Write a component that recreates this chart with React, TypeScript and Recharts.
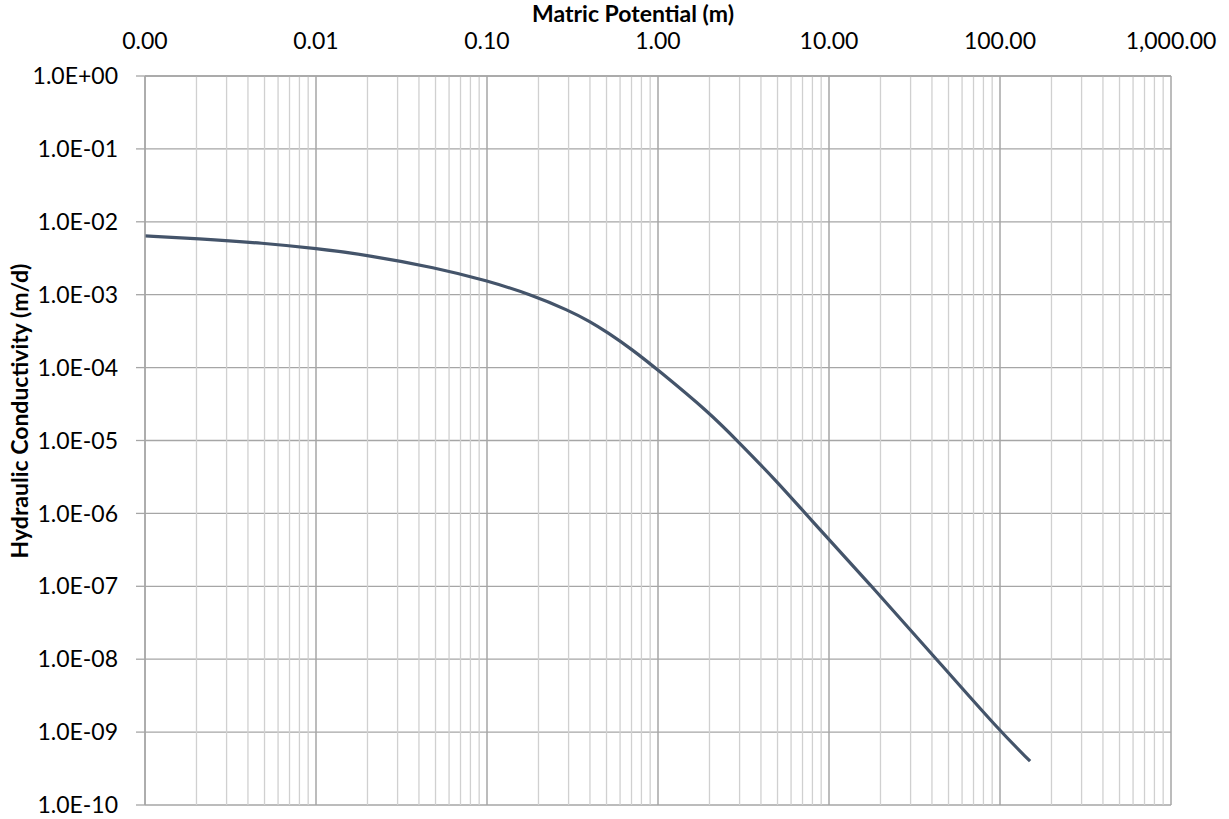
import React from "react";
import {
  LineChart,
  Line,
  XAxis,
  YAxis,
  CartesianGrid,
  ReferenceLine,
} from "recharts";

// matric potential (m) and hydraulic conductivity (m/d)
const potential = [
  0.001, 0.002, 0.005, 0.01, 0.02, 0.05, 0.1, 0.182, 0.3, 0.4, 0.5, 0.7, 1, 2,
  2.9, 5, 7.25, 17.8, 42.5, 101, 150,
];
const conductivity = [
  6.4e-3, 5.9e-3, 5.1e-3, 4.3e-3, 3.5e-3, 2.35e-3, 1.56e-3, 1.0e-3, 6.1e-4,
  4.3e-4, 3.1e-4, 1.8e-4, 9.3e-5, 2.4e-5, 1.0e-5, 2.7e-6, 1.0e-6, 1.0e-7,
  1.0e-8, 1.0e-9, 4.0e-10,
];

const xTicks = [0.001, 0.01, 0.1, 1, 10, 100, 1000];
const yTicks = [1, 1e-1, 1e-2, 1e-3, 1e-4, 1e-5, 1e-6, 1e-7, 1e-8, 1e-9, 1e-10];
const minorMultipliers = [2, 3, 4, 5, 6, 7, 8, 9];

const data = potential.map((p, i) => ({ p, k: conductivity[i] }));

const minorX: number[] = [];
xTicks.slice(0, -1).forEach((d) => {
  minorMultipliers.forEach((m) => minorX.push(d * m));
});

const FONT = "Lato, 'Open Sans', sans-serif";
const GRID_MAJOR = "#a6a6a6";
const GRID_MINOR = "#d0d0d0";

const fmtX = (v: number) =>
  v.toLocaleString("en-US", {
    minimumFractionDigits: 2,
    maximumFractionDigits: 2,
  });

const fmtY = (v: number) => {
  const e = Math.round(Math.log10(v));
  return `1.0E${e < 0 ? "-" : "+"}${String(Math.abs(e)).padStart(2, "0")}`;
};

export default function App() {
  return (
    <div style={{ position: "absolute", left: 0, top: 0, background: "#fff" }}>
      <LineChart
        width={1229}
        height={819}
        data={data}
        margin={{ top: 0, right: 58, bottom: 14, left: 0 }}
        style={{ fontFamily: FONT }}
      >
        <CartesianGrid vertical={false} stroke={GRID_MAJOR} strokeWidth={1.3} />
        {minorX.map((x) => (
          <ReferenceLine key={`m-${x}`} x={x} stroke={GRID_MINOR} strokeWidth={1.3} />
        ))}
        {xTicks.map((x) => (
          <ReferenceLine key={`M-${x}`} x={x} stroke={GRID_MAJOR} strokeWidth={1.5} />
        ))}
        <XAxis
          dataKey="p"
          type="number"
          scale="log"
          domain={[0.001, 1000]}
          ticks={xTicks}
          allowDataOverflow
          orientation="top"
          height={76}
          tickLine={false}
          tickSize={0}
          tickMargin={27}
          axisLine={{ stroke: GRID_MAJOR, strokeWidth: 1.3 }}
          tick={{ fill: "#000", fontSize: 23, fontFamily: FONT }}
          tickFormatter={fmtX}
          interval={0}
          label={{
            content: () => (
              <text
                x={633}
                y={22}
                textAnchor="middle"
                fontSize={23}
                fontWeight={700}
                fontFamily={FONT}
                fill="#000"
              >
                Matric Potential (m)
              </text>
            ),
          }}
        />
        <YAxis
          type="number"
          scale="log"
          domain={[1e-10, 1]}
          ticks={yTicks}
          allowDataOverflow
          width={145}
          tickSize={9}
          tickMargin={18}
          tickLine={{ stroke: GRID_MAJOR, strokeWidth: 1.3 }}
          axisLine={{ stroke: GRID_MAJOR, strokeWidth: 1.3 }}
          tick={{ fill: "#000", fontSize: 23, fontFamily: FONT }}
          tickFormatter={fmtY}
          interval={0}
          label={{
            content: () => (
              <text
                x={0}
                y={0}
                transform="translate(19, 411) rotate(-90)"
                textAnchor="middle"
                dominantBaseline="central"
                fontSize={23}
                fontWeight={700}
                fontFamily={FONT}
                fill="#000"
              >
                Hydraulic Conductivity (m/d)
              </text>
            ),
          }}
        />
        <Line
          dataKey="k"
          type="basis"
          stroke="#44546a"
          strokeWidth={3.2}
          dot={false}
          isAnimationActive={false}
        />
      </LineChart>
    </div>
  );
}
